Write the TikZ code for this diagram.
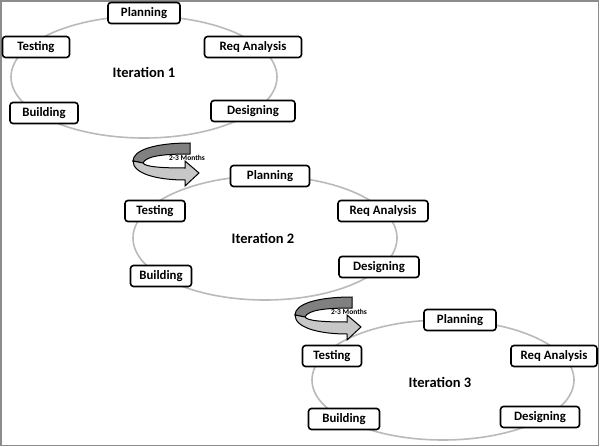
\documentclass[tikz,border=0pt]{standalone}
\usepackage{fontspec}
\setmainfont{Carlito}
\begin{document}
\begin{tikzpicture}[x=1pt,y=-1pt,
  stagebox/.style={draw=black, line width=1.6pt, rounded corners=3pt, fill=white,
    minimum height=21pt, inner sep=0pt, font=\bfseries\fontsize{12.8}{14}\selectfont},
  itlabel/.style={font=\bfseries\fontsize{14.5}{16}\selectfont, inner sep=0pt},
  ring/.style={draw=black!27, line width=1.6pt},
  monthslbl/.style={font=\bfseries\fontsize{7.5}{8}\selectfont, inner sep=0pt},
  cyc/.pic={
    \fill[black!50, draw=black, line width=1pt]
      (57,0) .. controls (22,0) and (0,7) .. (0,18) -- (10,20)
      .. controls (13,13) and (30,11) .. (57,11) -- cycle;
    \fill[black!22, draw=black, line width=1pt]
      (0,18) .. controls (0,31) and (25,37) .. (52,37) -- (52,43) -- (66,30)
      -- (52,18) -- (52,25) .. controls (30,25) and (12,24) .. (10,20) -- cycle;
    \node[monthslbl] (lbl) at (54,15) {2-3 Months};
  }]
\useasboundingbox (0,0) rectangle (600,447);
\fill[white] (0,0) rectangle (600,447);
\draw[black!45, line width=1.5pt] (0.75,0.75) rectangle (598.5,445.5);

% Iteration 1
\draw[ring] (144,77) ellipse [x radius=133, y radius=61];
\node[itlabel] (i1) at (144,72) {Iteration 1};
\node[stagebox, minimum width=72pt] (p1) at (144,13) {Planning};
\node[stagebox, minimum width=67pt] (t1) at (36,47) {Testing};
\node[stagebox, minimum width=97pt] (r1) at (253,47) {Req Analysis};
\node[stagebox, minimum width=68pt] (b1) at (44,113) {Building};
\node[stagebox, minimum width=84pt] (d1) at (253,111) {Designing};

% Iteration 2
\draw[ring] (265,238) ellipse [x radius=132, y radius=62];
\node[itlabel] (i2) at (263,238) {Iteration 2};
\node[stagebox, minimum width=79pt] (p2) at (270,176) {Planning};
\node[stagebox, minimum width=60pt] (t2) at (155,211) {Testing};
\node[stagebox, minimum width=90pt] (r2) at (383,211) {Req Analysis};
\node[stagebox, minimum width=61pt] (b2) at (161,276) {Building};
\node[stagebox, minimum width=80pt] (d2) at (379,267) {Designing};

% Iteration 3
\draw[ring] (443,380) ellipse [x radius=131, y radius=60];
\node[itlabel] (i3) at (440,382) {Iteration 3};
\node[stagebox, minimum width=72pt] (p3) at (460,320) {Planning};
\node[stagebox, minimum width=59pt] (t3) at (332,356) {Testing};
\node[stagebox, minimum width=86pt] (r3) at (554,356) {Req Analysis};
\node[stagebox, minimum width=71pt] (b3) at (344,419) {Building};
\node[stagebox, minimum width=79pt] (d3) at (540,417) {Designing};

% transition arrows
\pic (a1) at (133,143) {cyc};
\pic (a2) at (295,297) {cyc};
\end{tikzpicture}
\end{document}
